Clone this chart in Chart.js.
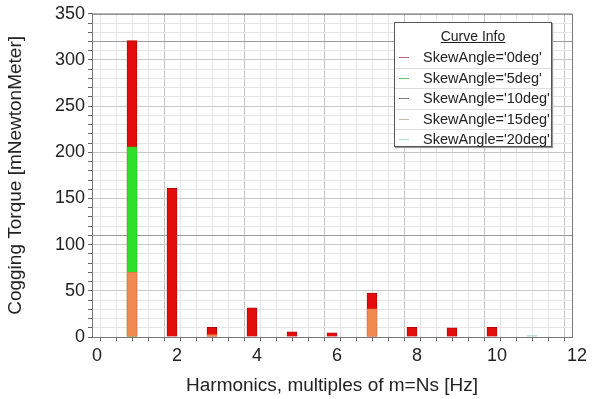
<!DOCTYPE html>
<html>
<head>
<meta charset="utf-8">
<script src="https://cdn.jsdelivr.net/npm/chart.js@4/dist/chart.umd.min.js"></script>
<style>
  body { margin: 0; background: #fff; }
  #wrap { position: relative; width: 601px; height: 399px; }
  #legend {
    position: absolute; left: 394px; top: 22px; width: 158px; height: 125px;
    border: 1px solid #555; background: #fff; box-shadow: 1px 1px 1px #999;
    font-family: "Liberation Sans", Arial, sans-serif; color: #222; box-sizing: border-box;
  }
  #legend .title { text-align: center; font-size: 14px; text-decoration: underline; margin-top: 5px; height: 20px; }
  #legend .row { position: relative; height: 19.5px; line-height: 19.5px; font-size: 14.5px; border-bottom: 1px solid #ddd; margin-left: 0; }
  #legend .row:last-child { border-bottom: none; }
  #legend .sw { position: absolute; left: 4px; top: 9px; width: 10px; height: 1px; }
  #legend .lbl { position: absolute; left: 28px; top: 0; white-space: nowrap; }
</style>
</head>
<body>
<div id="wrap">
  <canvas id="chart" width="601" height="399"></canvas>
  <div id="legend"></div>
</div>
<script>
  // harmonic orders (multiples of m=Ns)
  const harmonics = [1, 2, 3, 4, 5, 6, 7, 8, 9, 10, 11];

  // cogging torque amplitudes [mNewtonMeter] per skew angle
  const skew0 = [321, 161, 10.5, 31.5, 5.5, 4.5, 47.5, 10.5, 10, 10.5, null];
  const skew5 = [206, null, null, null, null, null, null, null, null, null, null];
  const skew10 = [null, null, null, null, null, null, null, null, null, null, null];
  const skew15 = [70, null, 2.5, null, null, null, 30.5, null, null, null, null];
  const skew20 = [null, null, null, null, null, null, null, null, null, null, 1.5];

  const seriesNames = ["SkewAngle='0deg'", "SkewAngle='5deg'", "SkewAngle='10deg'", "SkewAngle='15deg'", "SkewAngle='20deg'"];
  const seriesValues = [skew0, skew5, skew10, skew15, skew20];
  const barColors = ["#e30d0d", "#2fe02a", "#7a7a7a", "#f28a52", "#a9e3dc"];
  const barBorders = ["#b80808", "#28c824", "#666666", "#e07a45", "#8fcfc8"];
  const legendColors = ["#c46a78", "#5cc85c", "#808080", "#c9b8a8", "#a6e2d6"];

  function toPoints(values) {
    return harmonics.map((h, i) => ({ x: h, y: values[i] }));
  }

  const datasets = seriesValues.map((vals, i) => ({
    label: seriesNames[i],
    data: toPoints(vals),
    backgroundColor: barColors[i],
    borderColor: barBorders[i],
    borderWidth: 1,
    barThickness: 10,
    order: 5 - i,
  }));

  // plot frame on top and right
  const framePlugin = {
    id: "frame",
    afterDraw(chart) {
      const a = chart.chartArea;
      const ctx = chart.ctx;
      ctx.save();
      ctx.strokeStyle = "#777";
      ctx.lineWidth = 1;
      ctx.strokeRect(a.left + 0.5, a.top + 0.5, a.right - a.left, a.bottom - a.top);
      ctx.restore();
    },
  };

  const font = { family: "'Liberation Sans', Arial, sans-serif", size: 18 };

  new Chart(document.getElementById("chart").getContext("2d"), {
    type: "bar",
    data: { datasets: datasets },
    plugins: [framePlugin],
    options: {
      responsive: false,
      animation: false,
      layout: { padding: { left: 0, right: 29, top: 13, bottom: 0 } },
      plugins: { legend: { display: false }, tooltip: { enabled: false } },
      scales: {
        x: {
          type: "linear",
          stacked: true,
          min: 0,
          max: 12,
          offset: false,
          afterFit(scale) { scale.height = 62; },
          ticks: {
            stepSize: 0.4,
            autoSkip: false,
            maxRotation: 0,
            padding: 4,
            labelOffset: 5,
            color: "#222",
            font: font,
            callback(v) {
              const r = Math.round(v);
              return Math.abs(v - r) < 1e-6 && r % 2 === 0 ? String(r) : "";
            },
          },
          grid: {
            color(ctx) {
              const v = ctx.tick ? ctx.tick.value : 0;
              const r = Math.round(v);
              return Math.abs(v - r) < 1e-6 && r % 2 === 0 ? "#c4c4c4" : "#e6e6e6";
            },
            tickLength: 4,
            tickColor: "#666",
          },
          border: { color: "#777" },
          title: {
            display: true,
            text: "Harmonics, multiples of m=Ns [Hz]",
            color: "#222",
            font: { family: font.family, size: 19 },
            padding: { top: 0, bottom: 2 },
          },
        },
        y: {
          stacked: false,
          min: 0,
          max: 350,
          afterFit(scale) { scale.width = 92; },
          ticks: {
            stepSize: 10,
            autoSkip: false,
            padding: 3,
            color: "#222",
            font: font,
            callback(v) { return v % 50 === 0 ? String(v) : ""; },
          },
          grid: {
            color(ctx) {
              const v = ctx.tick ? ctx.tick.value : 0;
              if (v === 110 || v === 320) return "#9a9a9a";
              return v % 50 === 0 ? "#c8c8c8" : "#e6e6e6";
            },
            tickLength: 4,
            tickColor: "#666",
          },
          border: { color: "#777" },
          title: {
            display: true,
            text: "Cogging Torque [mNewtonMeter]",
            color: "#222",
            font: { family: font.family, size: 19 },
            padding: { top: 4, bottom: 0 },
          },
        },
      },
    },
  });

  // curve info box
  const legend = document.getElementById("legend");
  legend.innerHTML = '<div class="title">Curve Info</div>' +
    seriesNames.map((name, i) =>
      `<div class="row"><span class="sw" style="background:${legendColors[i]}"></span><span class="lbl">${name}</span></div>`
    ).join("");
</script>
</body>
</html>
